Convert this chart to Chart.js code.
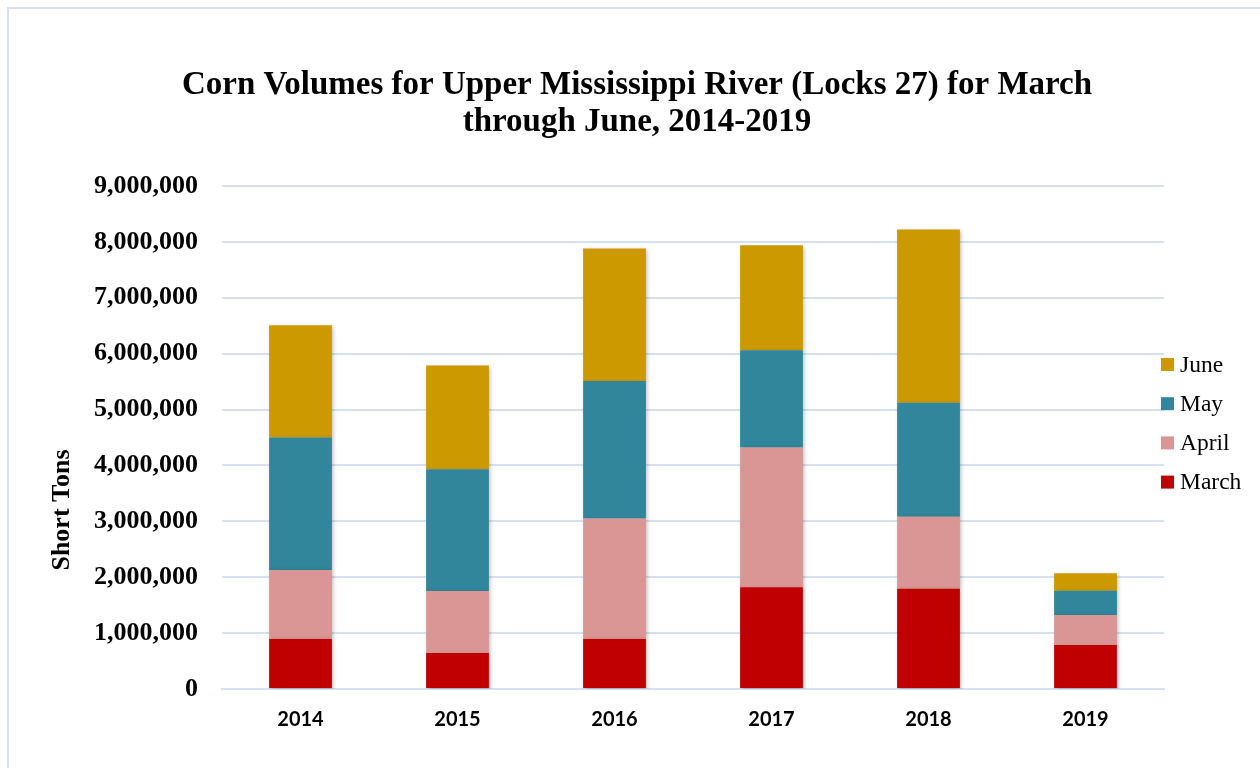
<!DOCTYPE html>
<html>
<head>
<meta charset="utf-8">
<script src="https://cdn.jsdelivr.net/npm/chart.js@4"></script>
<style>
  html, body { margin: 0; padding: 0; background: #ffffff; overflow: hidden; }
  #frame { position: absolute; left: 7px; top: 7px; width: 1300px; height: 800px;
           border-left: 2px solid #d5e1f1; border-top: 2px solid #d5e1f1; }
  #wrap { position: absolute; left: 0; top: 0; width: 1260px; height: 768px; }
</style>
</head>
<body>
<div id="frame"></div>
<div id="wrap"><canvas id="chart" width="1260" height="768"></canvas></div>
<script>
// Years on the category axis
const years = ['2014', '2015', '2016', '2017', '2018', '2019'];

// Monthly corn volumes (short tons) moving through Locks 27
const march = [895000, 644000, 895000, 1820000, 1795000, 787000];
const april = [1235000, 1109000, 2155000, 2500000, 1285000, 537000];
const may   = [2370000, 2177000, 2460000, 1740000, 2040000, 436000];
const june  = [2010000, 1860000, 2370000, 1880000, 3100000, 310000];

const seriesNames = ['March', 'April', 'May', 'June'];
const seriesColors = ['#C00000', '#D99694', '#31869B', '#CC9900'];

const titleLines = ['Corn Volumes for Upper Mississippi River (Locks 27) for March',
                    'through June, 2014-2019'];
const yAxisTitle = 'Short Tons';

const gridColor = '#d5e1f1';
const serif = '"Liberation Serif", "Times New Roman", serif';

// Soft drop shadow behind the bar segments
const barShadow = {
  id: 'barShadow',
  beforeDatasetsDraw(chart) {
    const ctx = chart.ctx;
    ctx.save();
    ctx.shadowColor = 'rgba(0,0,0,0.28)';
    ctx.shadowBlur = 4;
    ctx.shadowOffsetX = 1.5;
    ctx.shadowOffsetY = 1.5;
  },
  afterDatasetsDraw(chart) {
    chart.ctx.restore();
  }
};

// Two-line heading and the rotated value-axis caption
const headings = {
  id: 'headings',
  afterDraw(chart) {
    const ctx = chart.ctx;
    ctx.save();
    ctx.fillStyle = '#000000';
    ctx.textAlign = 'center';
    ctx.textBaseline = 'middle';
    ctx.font = 'bold 33px ' + serif;
    titleLines.forEach((line, i) => ctx.fillText(line, 637, 85.5 + i * 37));

    ctx.translate(62, 510);
    ctx.rotate(-Math.PI / 2);
    ctx.font = 'bold 26px ' + serif;
    ctx.fillText(yAxisTitle, 0, 0);
    ctx.restore();
  }
};

// Legend on the right, last series on top
const sideLegend = {
  id: 'sideLegend',
  afterDraw(chart) {
    const ctx = chart.ctx;
    const sets = chart.data.datasets.slice().reverse();
    const boxX = chart.chartArea.right - 3;
    const startY = 364.5;
    const step = 39.2;
    ctx.save();
    ctx.font = '23.5px ' + serif;
    ctx.textBaseline = 'middle';
    ctx.textAlign = 'left';
    sets.forEach((ds, i) => {
      const cy = startY + i * step;
      ctx.fillStyle = ds.backgroundColor;
      ctx.fillRect(boxX, cy - 6.5, 13, 13);
      ctx.fillStyle = '#000000';
      ctx.fillText(ds.label, boxX + 19, cy + 1);
    });
    ctx.restore();
  }
};

const values = [march, april, may, june];

new Chart(document.getElementById('chart'), {
  type: 'bar',
  data: {
    labels: years,
    datasets: seriesNames.map((name, i) => ({
      label: name,
      data: values[i],
      backgroundColor: seriesColors[i],
      borderWidth: 0,
      barPercentage: 0.4,
      categoryPercentage: 1.0
    }))
  },
  options: {
    responsive: false,
    animation: false,
    layout: { padding: { left: 0, right: 96, top: 186, bottom: 0 } },
    plugins: {
      legend: { display: false },
      tooltip: { enabled: false },
      title: { display: false }
    },
    scales: {
      x: {
        stacked: true,
        grid: { display: false, drawTicks: false },
        border: { display: true, color: gridColor, width: 2 },
        ticks: {
          color: '#000000',
          padding: 19,
          font: { family: 'Lato, "Liberation Sans", sans-serif', size: 20, weight: 'bold' }
        },
        afterFit(scale) { scale.height = 79; }
      },
      y: {
        stacked: true,
        min: 0,
        max: 9000000,
        grid: { color: gridColor, lineWidth: 2, drawTicks: false },
        border: { display: false },
        ticks: {
          stepSize: 1000000,
          color: '#000000',
          padding: 24,
          font: { family: serif, size: 26, weight: 'bold' },
          callback: (v) => v.toLocaleString('en-US')
        },
        afterFit(scale) { scale.width = 222; }
      }
    }
  },
  plugins: [barShadow, headings, sideLegend]
});
</script>
</body>
</html>
